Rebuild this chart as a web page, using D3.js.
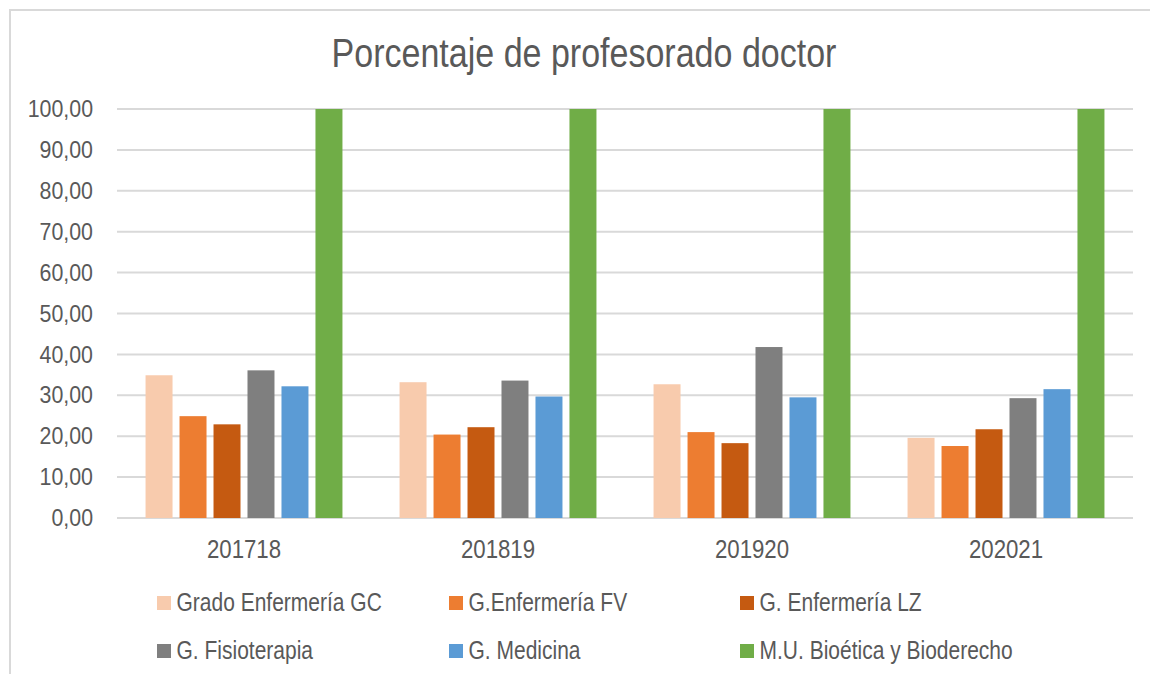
<!DOCTYPE html>
<html>
<head>
<meta charset="utf-8">
<script src="https://cdn.jsdelivr.net/npm/d3@7"></script>
<style>
  body { margin: 0; background: #fff; }
  text { font-family: "Liberation Sans Narrow", "Arial Narrow", "Liberation Sans", Arial, sans-serif; fill: #595959; }
</style>
</head>
<body>
<div id="chart-area"></div>
<script>
var years = ["201718", "201819", "201920", "202021"];
var series = ["Grado Enfermería GC", "G.Enfermería FV", "G. Enfermería LZ", "G. Fisioterapia", "G. Medicina", "M.U. Bioética y Bioderecho"];
var colors = ["#F8CBAD", "#ED7D31", "#C55A11", "#7F7F7F", "#5B9BD5", "#70AD47"];

// one array per series, values per year
var gradoGC = [34.9, 33.2, 32.7, 19.6];
var enfFV = [24.9, 20.4, 21.0, 17.6];
var enfLZ = [22.9, 22.2, 18.3, 21.7];
var fisio = [36.1, 33.6, 41.8, 29.3];
var medicina = [32.2, 29.7, 29.5, 31.5];
var bioetica = [100, 100, 100, 100];
var yTicks = [0, 10, 20, 30, 40, 50, 60, 70, 80, 90, 100];

var values = [gradoGC, enfFV, enfLZ, fisio, medicina, bioetica];

// narrow font is not available, so squeeze the regular one
var sqText = 0.84, sqNum = 0.89;

var W = 1150, H = 674;
var margin = { left: 117, right: 17, top: 109, bottom: 156 };
var width = W - margin.left - margin.right;
var height = H - margin.top - margin.bottom;

var svg = d3.select("#chart-area")
    .append("svg")
    .attr("width", W)
    .attr("height", H);

// chart frame (left and top edge visible)
svg.append("path")
    .attr("d", "M10,674 L10,10 L1150,10")
    .attr("fill", "none")
    .attr("stroke", "#D9D9D9")
    .attr("stroke-width", 2);

svg.append("text")
    .attr("transform", "translate(584,67) scale(0.83,1)")
    .attr("text-anchor", "middle")
    .style("font-size", "41px")
    .text("Porcentaje de profesorado doctor");

var g = svg.append("g")
    .attr("transform", "translate(" + margin.left + ", " + margin.top + ")");

var x0 = d3.scaleBand()
    .domain(years)
    .range([0, width]);

var x1 = d3.scaleBand()
    .domain(d3.range(series.length))
    .range([0, x0.bandwidth()])
    .paddingInner(0.206)
    .paddingOuter(0.84);

var y = d3.scaleLinear()
    .domain([0, 100])
    .range([height, 0]);

// gridlines
g.selectAll(".grid")
    .data(yTicks)
    .enter().append("line")
    .attr("class", "grid")
    .attr("x1", 0)
    .attr("x2", width)
    .attr("y1", function(d) { return y(d); })
    .attr("y2", function(d) { return y(d); })
    .attr("stroke", "#D9D9D9")
    .attr("stroke-width", 2);

// y axis labels
var yAxis = g.append("g")
    .call(d3.axisLeft(y).tickValues(yTicks).tickSize(0).tickPadding(24 / sqNum)
        .tickFormat(function(d) { return d3.format(".2f")(d).replace(".", ","); }));
yAxis.select(".domain").remove();
yAxis.selectAll("text")
    .style("font-size", "24px")
    .attr("fill", "#595959")
    .attr("transform", "scale(" + sqNum + ",1)");

// bars
var groups = g.selectAll(".year")
    .data(years)
    .enter().append("g")
    .attr("class", "year")
    .attr("transform", function(d) { return "translate(" + x0(d) + ",0)"; });

groups.selectAll("rect")
    .data(function(d, i) { return values.map(function(v, s) { return { s: s, v: v[i] }; }); })
    .enter().append("rect")
    .attr("x", function(d) { return x1(d.s); })
    .attr("y", function(d) { return y(d.v); })
    .attr("width", x1.bandwidth())
    .attr("height", function(d) { return height - y(d.v); })
    .attr("fill", function(d) { return colors[d.s]; });

// x axis labels
var xAxis = g.append("g")
    .attr("transform", "translate(0, " + height + ")")
    .call(d3.axisBottom(x0).tickSize(0).tickPadding(22));
xAxis.select(".domain").remove();
xAxis.selectAll("text")
    .style("font-size", "25px")
    .attr("fill", "#595959")
    .attr("transform", "scale(" + sqNum + ",1)");

// legend
var legX = [157, 449, 740];
var legY = [603, 651];
var legend = svg.selectAll(".legend")
    .data(series)
    .enter().append("g")
    .attr("class", "legend")
    .attr("transform", function(d, i) { return "translate(" + legX[i % 3] + "," + legY[Math.floor(i / 3)] + ")"; });

legend.append("rect")
    .attr("x", 0)
    .attr("y", -7)
    .attr("width", 14)
    .attr("height", 14)
    .attr("fill", function(d, i) { return colors[i]; });

legend.append("text")
    .attr("transform", "translate(19.5,8) scale(" + sqText + ",1)")
    .style("font-size", "25px")
    .text(function(d) { return d; });
</script>
</body>
</html>
